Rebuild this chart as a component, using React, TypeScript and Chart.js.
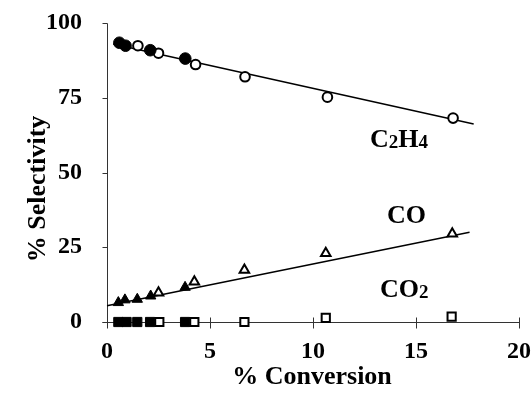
import React, { useEffect, useRef } from "react";
import { Chart, registerables } from "chart.js";

Chart.register(...registerables);

// ---- data ----
const xTickValues = [0, 5, 10, 15, 20];
const yTickValues = [0, 25, 50, 75, 100];

const c2h4FilledX = [0.6, 0.9, 2.1, 3.8];
const c2h4FilledY = [93.4, 92.4, 90.9, 88.1];
const c2h4OpenX = [1.5, 2.5, 4.3, 6.7, 10.7, 16.8];
const c2h4OpenY = [92.4, 89.9, 86.1, 82.0, 75.2, 68.2];

const coFilledX = [0.55, 0.87, 1.47, 2.12, 3.79];
const coFilledY = [6.5, 7.4, 7.6, 8.7, 11.6];
const coOpenX = [2.5, 4.24, 6.67, 10.62, 16.76];
const coOpenY = [9.8, 13.5, 17.4, 23.0, 29.5];

const co2FilledX = [0.55, 0.95, 1.47, 2.09, 3.79];
const co2FilledY = [0, 0, 0, 0, 0];
const co2OpenX = [2.54, 4.24, 6.67, 10.62, 16.73];
const co2OpenY = [0, 0, 0, 1.4, 1.8];

const c2h4FitX = [0.3, 17.8];
const c2h4FitY = [93.0, 66.2];
const coFitX = [0, 17.6];
const coFitY = [5.4, 30.0];

const xTitle = "% Conversion";
const yTitle = "% Selectivity";

const pts = (xs: number[], ys: number[]) => xs.map((x, i) => ({ x, y: ys[i] }));

const FONT = "'Liberation Serif', 'Times New Roman', serif";
const AXIS = "#333";

const overlay = {
  id: "overlay",
  beforeDatasetsDraw(chart: any) {
    const { ctx, scales } = chart;
    const xs = scales.x;
    const ys = scales.y;
    const x0 = Math.round(xs.getPixelForValue(0)) + 0.5;
    const x1 = Math.round(xs.getPixelForValue(20)) + 0.5;
    const y0 = Math.round(ys.getPixelForValue(0)) + 0.5;
    const y1 = Math.round(ys.getPixelForValue(100)) + 0.5;
    ctx.save();
    ctx.strokeStyle = AXIS;
    ctx.lineWidth = 1;
    ctx.beginPath();
    // y axis
    ctx.moveTo(x0, y1);
    ctx.lineTo(x0, y0);
    for (const v of yTickValues) {
      const py = Math.round(ys.getPixelForValue(v)) + 0.5;
      ctx.moveTo(x0 - 5, py);
      ctx.lineTo(x0, py);
    }
    // x axis
    ctx.moveTo(x0 - 5, y0);
    ctx.lineTo(x1, y0);
    for (const v of xTickValues) {
      const px = Math.round(xs.getPixelForValue(v)) + 0.5;
      ctx.moveTo(px, y0 - 5);
      ctx.lineTo(px, y0 + 6);
    }
    ctx.stroke();
    ctx.restore();
  },
  afterDraw(chart: any) {
    const { ctx } = chart;
    ctx.save();
    ctx.fillStyle = "#000";
    ctx.textBaseline = "alphabetic";
    ctx.textAlign = "left";
    const big = `bold 26px ${FONT}`;
    const small = `bold 19px ${FONT}`;
    const drawRuns = (x: number, y: number, runs: [string, boolean][]) => {
      let cx = x;
      for (const [t, sub] of runs) {
        ctx.font = sub ? small : big;
        ctx.fillText(t, cx, sub ? y + 1 : y);
        cx += ctx.measureText(t).width;
      }
    };
    drawRuns(370, 147, [["C", false], ["2", true], ["H", false], ["4", true]]);
    drawRuns(387, 223, [["CO", false]]);
    drawRuns(380, 297, [["CO", false], ["2", true]]);

    // axis titles
    ctx.font = big;
    ctx.textAlign = "center";
    ctx.textBaseline = "middle";
    ctx.fillText(xTitle, 312, 377);
    ctx.save();
    ctx.translate(38, 189);
    ctx.rotate(-Math.PI / 2);
    ctx.fillText(yTitle, 0, 0);
    ctx.restore();
    ctx.restore();
  },
};

export default function App() {
  const ref = useRef<HTMLCanvasElement | null>(null);
  useEffect(() => {
    if (!ref.current) return;
    const filled = { backgroundColor: "#000", borderColor: "#000", borderWidth: 1 };
    const open = { backgroundColor: "#fff", borderColor: "#000", borderWidth: 2 };
    const chart = new Chart(ref.current, {
      type: "scatter",
      data: {
        datasets: [
          { label: "C2H4 filled", data: pts(c2h4FilledX, c2h4FilledY), pointStyle: "circle", pointRadius: 5.8, ...filled },
          { label: "C2H4 open", data: pts(c2h4OpenX, c2h4OpenY), pointStyle: "circle", pointRadius: 4.8, ...open },
          { label: "CO filled", data: pts(coFilledX, coFilledY), pointStyle: "triangle", pointRadius: 6, ...filled },
          { label: "CO open", data: pts(coOpenX, coOpenY), pointStyle: "triangle", pointRadius: 5.5, ...open },
          { label: "CO2 filled", data: pts(co2FilledX, co2FilledY), pointStyle: "rect", pointRadius: 6.5, ...filled },
          { label: "CO2 open", data: pts(co2OpenX, co2OpenY), pointStyle: "rect", pointRadius: 5.8, ...open },
          { label: "C2H4 fit", data: pts(c2h4FitX, c2h4FitY), showLine: true, pointRadius: 0, borderColor: "#000", borderWidth: 1.5 },
          { label: "CO fit", data: pts(coFitX, coFitY), showLine: true, pointRadius: 0, borderColor: "#000", borderWidth: 1.5 },
        ].map((d: any) => ({ ...d, clip: false, pointHoverRadius: d.pointRadius })),
      },
      options: {
        animation: false,
        responsive: false,
        devicePixelRatio: 1,
        events: [],
        layout: { padding: { left: 0, top: 23, right: 13, bottom: 0 } },
        plugins: { legend: { display: false }, tooltip: { enabled: false }, title: { display: false } },
        scales: {
          x: {
            type: "linear",
            min: 0,
            max: 20,
            afterFit: (s: any) => {
              s.height = 76;
              s.paddingLeft = 0;
              s.paddingRight = 0;
              s.paddingTop = 0;
              s.paddingBottom = 0;
            },
            afterBuildTicks: (s: any) => { s.ticks = xTickValues.map((v) => ({ value: v })); },
            grid: { display: false, drawTicks: false },
            border: { display: false },
            ticks: { padding: 15, color: "#000", font: { family: FONT, size: 24, weight: "bold" } },
          },
          y: {
            type: "linear",
            min: 0,
            max: 100,
            afterFit: (s: any) => {
              s.width = 107;
              s.paddingLeft = 0;
              s.paddingRight = 0;
              s.paddingTop = 0;
              s.paddingBottom = 0;
            },
            afterBuildTicks: (s: any) => { s.ticks = yTickValues.map((v) => ({ value: v })); },
            grid: { display: false, drawTicks: false },
            border: { display: false },
            ticks: { padding: 25, color: "#000", font: { family: FONT, size: 24, weight: "bold" } },
          },
        },
      },
      plugins: [overlay],
    } as any);
    return () => chart.destroy();
  }, []);
  return (
    <div style={{ position: "absolute", left: 0, top: 0, width: 532, height: 398, background: "#fff" }}>
      <canvas ref={ref} width={532} height={398} style={{ width: 532, height: 398 }} />
    </div>
  );
}
